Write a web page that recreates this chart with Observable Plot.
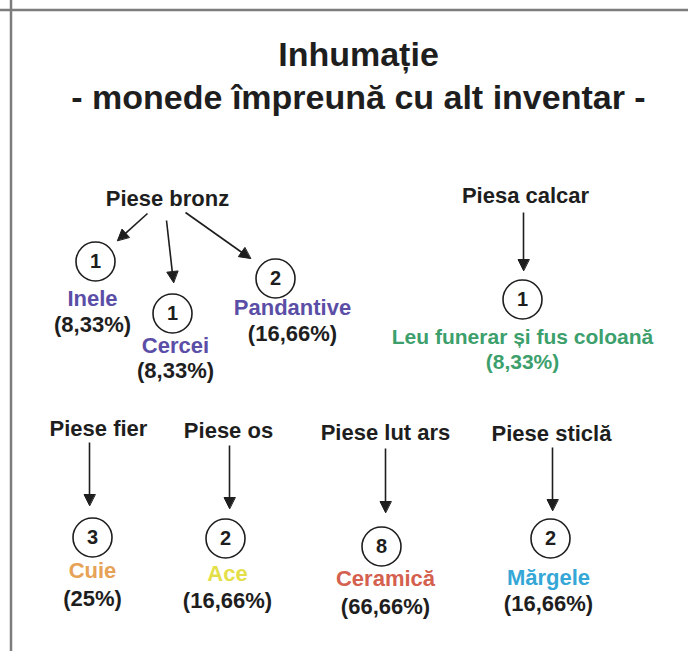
<!DOCTYPE html>
<html>
<head>
<meta charset="utf-8">
<script src="https://cdn.jsdelivr.net/npm/d3@7"></script>
<script src="https://cdn.jsdelivr.net/npm/@observablehq/plot@0.6"></script>
<style>
  html, body { margin: 0; padding: 0; background: #fff; }
</style>
</head>
<body>
<div id="chart"></div>
<script>
// ---------- data ----------
const titleLines = ["Inhumație", "- monede împreună cu alt inventar -"];
const groups = ["Piese bronz", "Piesa calcar", "Piese fier", "Piese os", "Piese lut ars", "Piese sticlă"];
const items = ["Inele", "Cercei", "Pandantive", "Leu funerar și fus coloană", "Cuie", "Ace", "Ceramică", "Mărgele"];
const itemGroup = ["Piese bronz", "Piese bronz", "Piese bronz", "Piesa calcar", "Piese fier", "Piese os", "Piese lut ars", "Piese sticlă"];
const counts = [1, 1, 2, 1, 3, 2, 8, 2];
const percents = ["8,33%", "8,33%", "16,66%", "8,33%", "25%", "16,66%", "66,66%", "16,66%"];

// ---------- layout (diagram coordinates) ----------
const titleLayout = [{x: 358, y: 55}, {x: 358, y: 98}];
const groupLayout = [
  {x: 167, y: 198}, {x: 525, y: 195}, {x: 98, y: 428},
  {x: 228, y: 430}, {x: 385, y: 432}, {x: 551, y: 433}
];
const itemLayout = [
  {cx: 95,  cy: 261, lx: 92,  ly: 298, py: 324, fs: 22, x1: 147, y1: 213, x2: 117, y2: 240},
  {cx: 172, cy: 313, lx: 175, ly: 345, py: 370, fs: 22, x1: 166, y1: 220, x2: 173, y2: 282},
  {cx: 275, cy: 278, lx: 292, ly: 307, py: 333, fs: 22, x1: 185, y1: 212, x2: 250, y2: 258},
  {cx: 522, cy: 299, lx: 522, ly: 337, py: 362, fs: 21, x1: 523, y1: 212, x2: 523, y2: 270},
  {cx: 92,  cy: 537, lx: 92,  ly: 570, py: 598, fs: 22, x1: 89,  y1: 442, x2: 89,  y2: 505},
  {cx: 225, cy: 538, lx: 227, ly: 573, py: 600, fs: 22, x1: 229, y1: 445, x2: 229, y2: 508},
  {cx: 381, cy: 546, lx: 385, ly: 578, py: 606, fs: 22, x1: 385, y1: 448, x2: 385, y2: 512},
  {cx: 550, cy: 538, lx: 548, ly: 577, py: 603, fs: 22, x1: 552, y1: 447, x2: 552, y2: 510}
];

// ---------- styles ----------
const FONT = "Liberation Sans, Arial, Helvetica, sans-serif";
const INK = "#1e1e1e";
const itemColors = ["#5a4ea6", "#5a4ea6", "#5a4ea6", "#3c9f6c", "#e6a256", "#e4df48", "#d4604e", "#35a7d6"];
const pctColors  = [INK, INK, INK, "#3c9f6c", INK, INK, INK, INK];

// ---------- derived tables ----------
const titles = titleLines.map((t, i) => ({t, ...titleLayout[i]}));
const groupRows = groups.map((g, i) => ({g, ...groupLayout[i]}));
const rows = items.map((name, i) => ({
  name, group: itemGroup[i], count: counts[i], pct: "(" + percents[i] + ")",
  color: itemColors[i], pctColor: pctColors[i], ...itemLayout[i]
}));
const rows22 = rows.filter(d => d.fs === 22);
const rows21 = rows.filter(d => d.fs === 21);

const headLen = 11, headHalf = 5.5;
const shafts = rows.map(d => {
  const dx = d.x2 - d.x1, dy = d.y2 - d.y1, L = Math.hypot(dx, dy);
  const ux = dx / L, uy = dy / L;
  return {x1: d.x1, y1: d.y1, x2: d.x2 - ux * (headLen - 1), y2: d.y2 - uy * (headLen - 1)};
});
const heads = rows.flatMap((d, i) => {
  const dx = d.x2 - d.x1, dy = d.y2 - d.y1, L = Math.hypot(dx, dy);
  const ux = dx / L, uy = dy / L, px = -uy, py = ux;
  const bx = d.x2 - ux * headLen, by = d.y2 - uy * headLen;
  return [
    {id: i, x: d.x2, y: d.y2},
    {id: i, x: bx + px * headHalf, y: by + py * headHalf},
    {id: i, x: bx - px * headHalf, y: by - py * headHalf}
  ];
});

const W = 688, H = 651;
const chart = Plot.plot({
  width: W, height: H, margin: 0,
  x: {domain: [0, W], range: [0, W], axis: null},
  y: {domain: [0, H], range: [0, H], axis: null},
  style: {fontFamily: FONT, background: "#fff"},
  marks: [
    // frame (top & left edges)
    Plot.ruleX([10.5], {stroke: "#7c7c7c", strokeWidth: 2.5}),
    Plot.ruleY([9.5], {stroke: "#7c7c7c", strokeWidth: 2.5}),
    // title
    Plot.text(titles, {x: "x", y: "y", text: "t", fontSize: 34, fontWeight: "bold", fill: INK}),
    // group labels
    Plot.text(groupRows, {x: "x", y: "y", text: "g", fontSize: 22, fontWeight: "bold", fill: INK}),
    // arrows
    Plot.link(shafts, {x1: "x1", y1: "y1", x2: "x2", y2: "y2", stroke: INK, strokeWidth: 1.6}),
    Plot.line(heads, {x: "x", y: "y", z: "id", curve: "linear-closed", fill: INK, stroke: INK, strokeWidth: 1}),
    // count circles
    Plot.dot(rows, {x: "cx", y: "cy", r: 19.5, fill: "#fff", stroke: INK, strokeWidth: 1.6}),
    Plot.text(rows, {x: "cx", y: "cy", text: d => String(d.count), fontSize: 20, fontWeight: "bold", fill: INK}),
    // item labels
    Plot.text(rows22, {x: "lx", y: "ly", text: "name", fontSize: 22, fontWeight: "bold", fill: d => d.color}),
    Plot.text(rows22, {x: "lx", y: "py", text: "pct", fontSize: 22, fontWeight: "bold", fill: d => d.pctColor}),
    Plot.text(rows21, {x: "lx", y: "ly", text: "name", fontSize: 21, fontWeight: "bold", fill: d => d.color}),
    Plot.text(rows21, {x: "lx", y: "py", text: "pct", fontSize: 21, fontWeight: "bold", fill: d => d.pctColor})
  ]
});
document.getElementById("chart").appendChild(chart);
</script>
</body>
</html>
